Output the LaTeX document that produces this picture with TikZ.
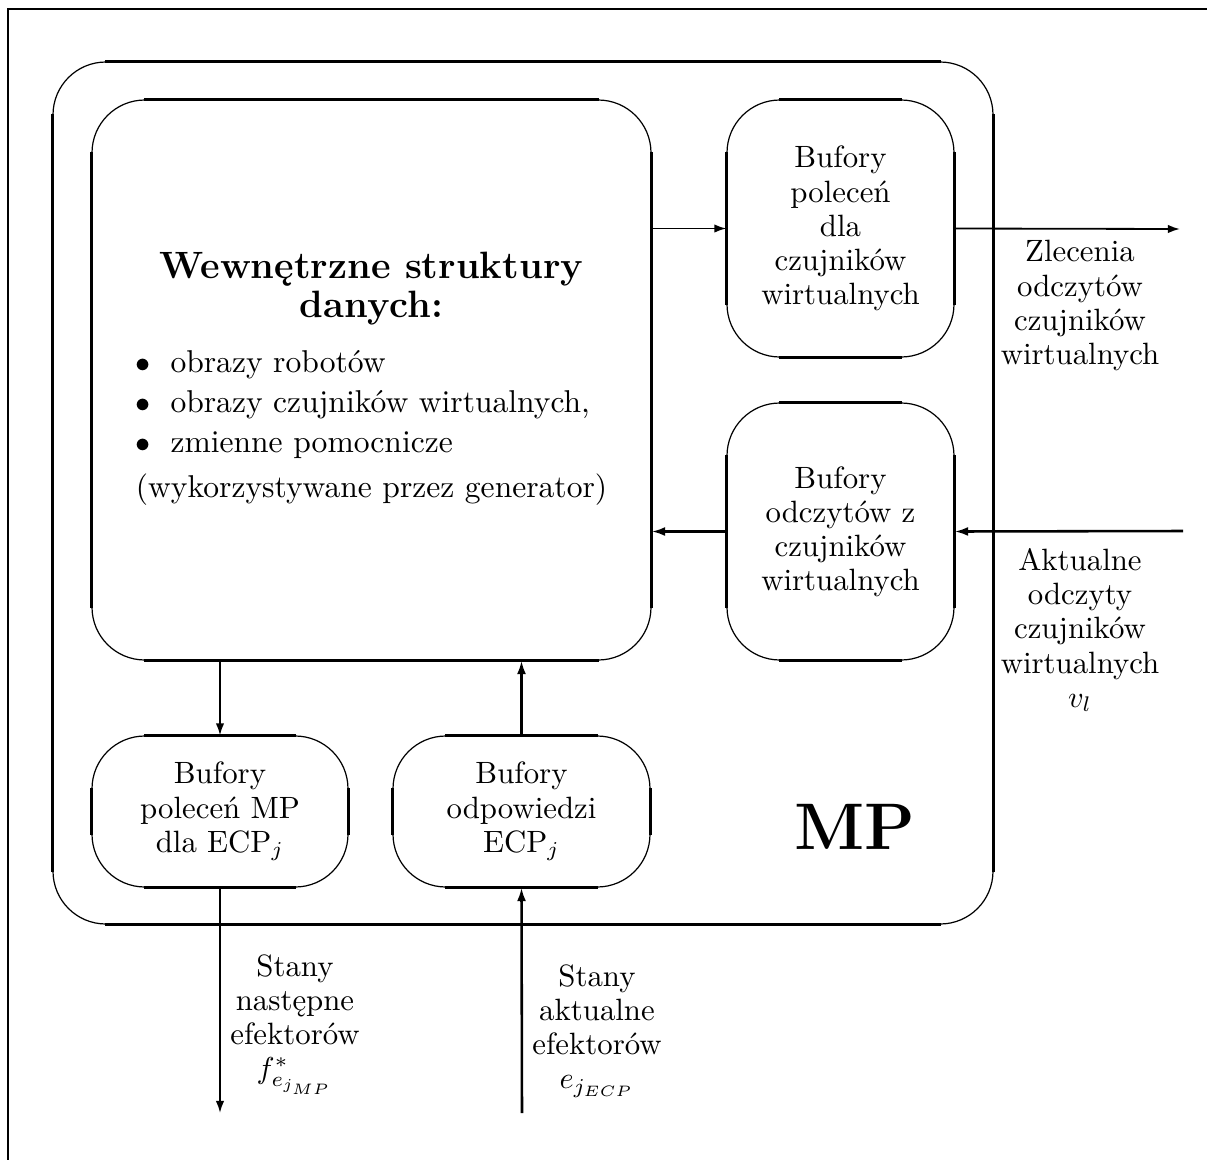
\documentclass[tikz,border=0pt]{standalone}
\usepackage{amsmath}
\usepackage{tikz}
\usetikzlibrary{positioning,arrows.meta,calc}
\newcommand{\pu}{0.331pt}
\tikzset{
  rbox/.style={rectangle, rounded corners=17.5pt, draw, line width=0.4pt,
               align=center, inner sep=0pt, font=\fontsize{10.2}{11.3}\selectfont},
  side/.style={line width=0.85pt},
  flow/.style={-{Latex[length=4pt,width=2.8pt]}, line width=0.6pt},
  flowin/.style={-{Latex[length=4.5pt,width=3pt]}, line width=0.85pt},
  lbl/.style={align=center, inner sep=0pt, font=\fontsize{10.2}{11.3}\selectfont},
}
% straight parts of a rounded box are drawn heavier
\newcommand{\ThickSides}[2]{%
  \draw[side] ([xshift=#2]#1.north west) -- ([xshift=-#2]#1.north east);
  \draw[side] ([xshift=#2]#1.south west) -- ([xshift=-#2]#1.south east);
  \draw[side] ([yshift=-#2]#1.north west) -- ([yshift=#2]#1.south west);
  \draw[side] ([yshift=-#2]#1.north east) -- ([yshift=#2]#1.south east);}
\begin{document}
\begin{tikzpicture}[x=\pu, y=-\pu]
  \useasboundingbox (0,0) rectangle (1207,1160);
  \draw[line width=0.7pt] (8,1160) -- (8,9) -- (1207,9);

  \node[rbox, minimum width=940*\pu, minimum height=862*\pu] (mp) at (523,493) {};
  \node[rbox, minimum width=559*\pu, minimum height=560*\pu,
        font=\fontsize{10.45}{11.3}\selectfont] (wsd) at (371.5,380) {%
    \begin{tabular}{@{}l@{}}
      \multicolumn{1}{@{}c@{}}{\fontsize{12.6}{14}\selectfont\bfseries Wewnętrzne struktury}\\[0.5pt]
      \multicolumn{1}{@{}c@{}}{\fontsize{12.6}{14}\selectfont\bfseries danych:}\\[7pt]
      $\bullet$\hspace{6.5pt}obrazy robotów\\[1.9pt]
      $\bullet$\hspace{6.5pt}obrazy czujników wirtualnych,\\[1.9pt]
      $\bullet$\hspace{6.5pt}zmienne pomocnicze\\[3.6pt]
      (wykorzystywane przez generator)
    \end{tabular}};
  \node[rbox, minimum width=227*\pu, minimum height=257*\pu] (buf1) at (840.5,228.5)
       {Bufory\\ poleceń\\ dla\\ czujników\\ wirtualnych};
  \node[rbox, minimum width=227*\pu, minimum height=257*\pu] (buf2) at (840.5,531.5)
       {Bufory\\ odczytów z\\ czujników\\ wirtualnych};
  \node[rbox, minimum width=256*\pu, minimum height=151*\pu] (cmd) at (220,811.5)
       {Bufory\\ poleceń MP\\ dla ECP$_j$};
  \node[rbox, minimum width=257*\pu, minimum height=151*\pu] (resp) at (521.5,811.5)
       {Bufory\\ odpowiedzi\\ ECP$_j$};
  \node[font=\fontsize{21.8}{26}\selectfont\bfseries, anchor=base, inner sep=0pt]
       (mpname) at (855,849) {MP};

  \ThickSides{mp}{17.5pt}
  \ThickSides{wsd}{17.5pt}
  \ThickSides{buf1}{17.5pt}
  \ThickSides{buf2}{17.5pt}
  \ThickSides{cmd}{17.5pt}
  \ThickSides{resp}{17.5pt}

  % free ends
  \coordinate (outZ) at (1180,229);
  \coordinate (inA) at (1183,531);
  \coordinate (outF) at (220,1113);
  \coordinate (inE) at (522,1113);

  \draw[flow] (wsd.east |- buf1.west) -- (buf1.west);
  \draw[flow] (buf1.east) -- (outZ);
  \draw[flowin] (inA) -- (buf2.east);
  \draw[flowin] (buf2.west) -- (wsd.east |- buf2.west);
  \draw[flow] (wsd.south -| cmd.north) -- (cmd.north);
  \draw[flowin] (resp.north) -- (wsd.south -| resp.north);
  \draw[flow] (cmd.south) -- (outF);
  \draw[flowin] (inE) -- (resp.south);

  \node[lbl, anchor=north] (lZ) at (1080,240)
       {Zlecenia\\ odczytów\\ czujników\\ wirtualnych};
  \node[lbl, anchor=north] (lA) at (1080,548)
       {Aktualne\\ odczyty\\ czujników\\ wirtualnych\\ $v_l$};
  \node[lbl, anchor=north] (lF) at (295,954)
       {Stany\\ następne\\ efektorów\\ $f^*_{e_{j_{MP}}}$};
  \node[lbl, anchor=north] (lE) at (597,964)
       {Stany\\ aktualne\\ efektorów\\ $e_{j_{ECP}}$};
\end{tikzpicture}
\end{document}
